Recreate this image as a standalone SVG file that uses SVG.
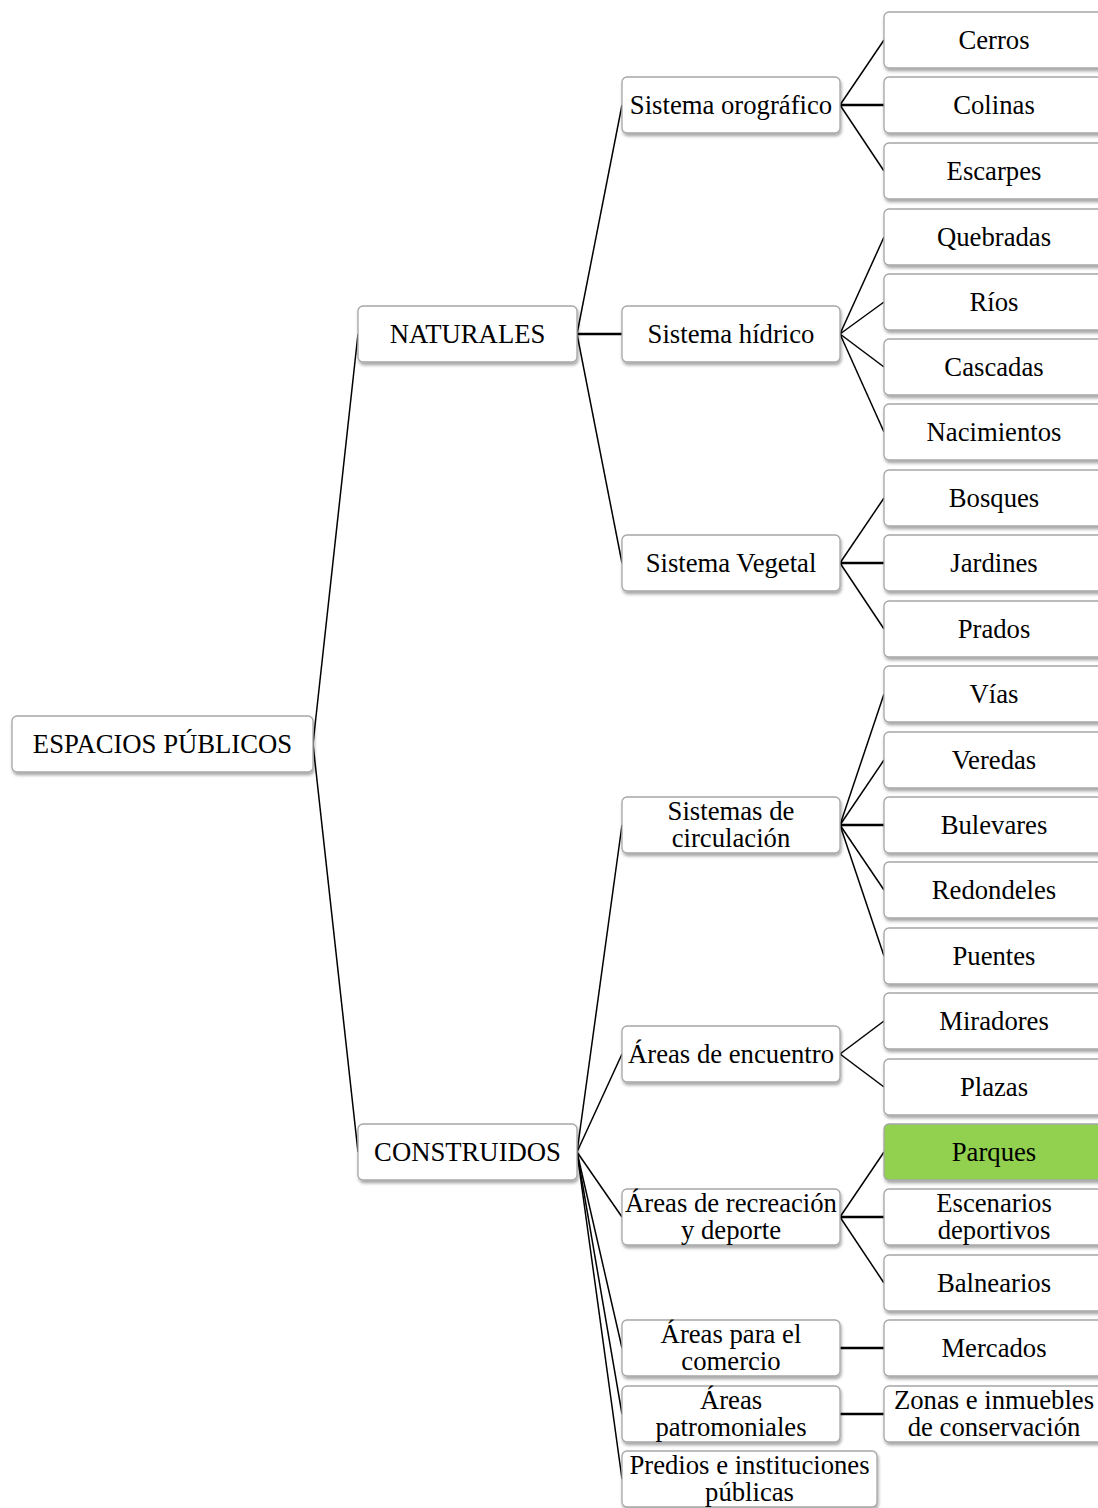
<svg xmlns="http://www.w3.org/2000/svg" width="1098" height="1508" viewBox="0 0 1098 1508">
<defs>
<filter id="sh" x="-10%" y="-20%" width="120%" height="150%">
<feDropShadow dx="1" dy="2.5" stdDeviation="1.5" flood-color="#000" flood-opacity="0.35"/>
</filter>
<style>
.b{fill:#fff;stroke:#a6a6a6;stroke-width:1.3;filter:url(#sh)}
.g{fill:#92D050}
text{font-family:"Liberation Serif","Times New Roman",serif;font-size:26.7px;fill:#000;text-anchor:middle}
.c line{stroke:#000;stroke-width:1.5}
.c line.h{stroke-width:2.5}
</style>
</defs>
<rect width="1098" height="1508" fill="#fff"/>
<g class="c" id="connectors">
<line x1="313" y1="744" x2="358" y2="334"/>
<line x1="313" y1="744" x2="358" y2="1152"/>
<line x1="577" y1="334" x2="622" y2="105"/>
<line class="h" x1="577" y1="334" x2="622" y2="334"/>
<line x1="577" y1="334" x2="622" y2="563"/>
<line x1="577" y1="1152" x2="622" y2="825"/>
<line x1="577" y1="1152" x2="622" y2="1054"/>
<line x1="577" y1="1152" x2="622" y2="1217"/>
<line x1="577" y1="1152" x2="622" y2="1348"/>
<line x1="577" y1="1152" x2="622" y2="1414"/>
<line x1="577" y1="1152" x2="622" y2="1479"/>
<line x1="840" y1="105" x2="884" y2="40"/>
<line class="h" x1="840" y1="105" x2="884" y2="105"/>
<line x1="840" y1="105" x2="884" y2="171"/>
<line x1="840" y1="334" x2="884" y2="237"/>
<line x1="840" y1="334" x2="884" y2="302"/>
<line x1="840" y1="334" x2="884" y2="367"/>
<line x1="840" y1="334" x2="884" y2="432"/>
<line x1="840" y1="563" x2="884" y2="498"/>
<line class="h" x1="840" y1="563" x2="884" y2="563"/>
<line x1="840" y1="563" x2="884" y2="629"/>
<line x1="840" y1="825" x2="884" y2="694"/>
<line x1="840" y1="825" x2="884" y2="760"/>
<line class="h" x1="840" y1="825" x2="884" y2="825"/>
<line x1="840" y1="825" x2="884" y2="890"/>
<line x1="840" y1="825" x2="884" y2="956"/>
<line x1="840" y1="1054" x2="884" y2="1021"/>
<line x1="840" y1="1054" x2="884" y2="1087"/>
<line x1="840" y1="1217" x2="884" y2="1152"/>
<line class="h" x1="840" y1="1217" x2="884" y2="1217"/>
<line x1="840" y1="1217" x2="884" y2="1283"/>
<line class="h" x1="840" y1="1348" x2="884" y2="1348"/>
<line class="h" x1="840" y1="1414" x2="884" y2="1414"/>
</g>
<g id="root"><rect class="b" x="12" y="716" width="301" height="56" rx="5"/><text x="162.5" y="753">ESPACIOS PÚBLICOS</text></g>
<g id="naturales"><rect class="b" x="358" y="306" width="219" height="56" rx="5"/><text x="467.5" y="343">NATURALES</text></g>
<g id="construidos"><rect class="b" x="358" y="1124" width="219" height="56" rx="5"/><text x="467.5" y="1161">CONSTRUIDOS</text></g>
<g id="orografico"><rect class="b" x="622" y="77" width="218" height="56" rx="5"/><text x="731" y="114">Sistema orográfico</text></g>
<g id="hidrico"><rect class="b" x="622" y="306" width="218" height="56" rx="5"/><text x="731" y="343">Sistema hídrico</text></g>
<g id="vegetal"><rect class="b" x="622" y="535" width="218" height="56" rx="5"/><text x="731" y="572">Sistema Vegetal</text></g>
<g id="circulacion"><rect class="b" x="622" y="797" width="218" height="56" rx="5"/><text x="731" y="820">Sistemas de</text><text x="731" y="847">circulación</text></g>
<g id="encuentro"><rect class="b" x="622" y="1026" width="218" height="56" rx="5"/><text x="731" y="1063">Áreas de encuentro</text></g>
<g id="recreacion"><rect class="b" x="622" y="1189" width="218" height="56" rx="5"/><text x="731" y="1212">Áreas de recreación</text><text x="731" y="1239">y deporte</text></g>
<g id="comercio"><rect class="b" x="622" y="1320" width="218" height="56" rx="5"/><text x="731" y="1343">Áreas para el</text><text x="731" y="1370">comercio</text></g>
<g id="patrimoniales"><rect class="b" x="622" y="1386" width="218" height="56" rx="5"/><text x="731" y="1409">Áreas</text><text x="731" y="1436">patromoniales</text></g>
<g id="predios"><rect class="b" x="622" y="1451" width="255" height="56" rx="5"/><text x="749.5" y="1474">Predios e instituciones</text><text x="749.5" y="1501">públicas</text></g>
<g id="cerros"><rect class="b" x="884" y="12" width="220" height="56" rx="5"/><text x="994" y="49">Cerros</text></g>
<g id="colinas"><rect class="b" x="884" y="77" width="220" height="56" rx="5"/><text x="994" y="114">Colinas</text></g>
<g id="escarpes"><rect class="b" x="884" y="143" width="220" height="56" rx="5"/><text x="994" y="180">Escarpes</text></g>
<g id="quebradas"><rect class="b" x="884" y="209" width="220" height="56" rx="5"/><text x="994" y="246">Quebradas</text></g>
<g id="rios"><rect class="b" x="884" y="274" width="220" height="56" rx="5"/><text x="994" y="311">Ríos</text></g>
<g id="cascadas"><rect class="b" x="884" y="339" width="220" height="56" rx="5"/><text x="994" y="376">Cascadas</text></g>
<g id="nacimientos"><rect class="b" x="884" y="404" width="220" height="56" rx="5"/><text x="994" y="441">Nacimientos</text></g>
<g id="bosques"><rect class="b" x="884" y="470" width="220" height="56" rx="5"/><text x="994" y="507">Bosques</text></g>
<g id="jardines"><rect class="b" x="884" y="535" width="220" height="56" rx="5"/><text x="994" y="572">Jardines</text></g>
<g id="prados"><rect class="b" x="884" y="601" width="220" height="56" rx="5"/><text x="994" y="638">Prados</text></g>
<g id="vias"><rect class="b" x="884" y="666" width="220" height="56" rx="5"/><text x="994" y="703">Vías</text></g>
<g id="veredas"><rect class="b" x="884" y="732" width="220" height="56" rx="5"/><text x="994" y="769">Veredas</text></g>
<g id="bulevares"><rect class="b" x="884" y="797" width="220" height="56" rx="5"/><text x="994" y="834">Bulevares</text></g>
<g id="redondeles"><rect class="b" x="884" y="862" width="220" height="56" rx="5"/><text x="994" y="899">Redondeles</text></g>
<g id="puentes"><rect class="b" x="884" y="928" width="220" height="56" rx="5"/><text x="994" y="965">Puentes</text></g>
<g id="miradores"><rect class="b" x="884" y="993" width="220" height="56" rx="5"/><text x="994" y="1030">Miradores</text></g>
<g id="plazas"><rect class="b" x="884" y="1059" width="220" height="56" rx="5"/><text x="994" y="1096">Plazas</text></g>
<g id="parques"><rect class="b g" x="884" y="1124" width="220" height="56" rx="5"/><text x="994" y="1161">Parques</text></g>
<g id="escenarios"><rect class="b" x="884" y="1189" width="220" height="56" rx="5"/><text x="994" y="1212">Escenarios</text><text x="994" y="1239">deportivos</text></g>
<g id="balnearios"><rect class="b" x="884" y="1255" width="220" height="56" rx="5"/><text x="994" y="1292">Balnearios</text></g>
<g id="mercados"><rect class="b" x="884" y="1320" width="220" height="56" rx="5"/><text x="994" y="1357">Mercados</text></g>
<g id="zonas"><rect class="b" x="884" y="1386" width="220" height="56" rx="5"/><text x="994" y="1409">Zonas e inmuebles</text><text x="994" y="1436">de conservación</text></g>
</svg>
